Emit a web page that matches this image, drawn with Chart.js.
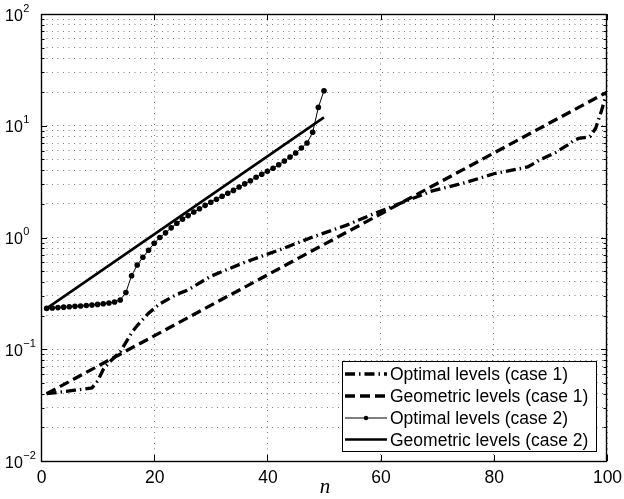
<!DOCTYPE html>
<html>
<head>
<meta charset="utf-8">
<script src="https://cdn.jsdelivr.net/npm/chart.js@4"></script>
<style>
  html, body { margin: 0; padding: 0; background: #fff; }
  #chart { display: block; }
</style>
</head>
<body>
<canvas id="chart" width="624" height="499"></canvas>
<script>
// values
const n_opt_case1 = [1, 3, 6, 9, 10, 11, 12, 14, 16, 17, 19, 21, 24, 26, 30, 36, 42, 48, 54, 58,
                     63, 69, 75, 80, 86, 88, 91, 93, 94, 95, 97, 98, 99, 100];
const opt_case1 = [0.040, 0.041, 0.043, 0.045, 0.052, 0.066, 0.076, 0.095, 0.14, 0.163, 0.21, 0.255, 0.31, 0.34, 0.45, 0.60, 0.77, 1.01, 1.29, 1.57,
                   1.98, 2.6, 3.1, 3.72, 4.28, 4.9, 5.8, 6.7, 7.3, 7.7, 8.0, 9.5, 13.5, 20];

const n_geo_case1 = [1, 100];
const geo_case1 = [0.04, 20];

const n_opt_case2 = [1, 2, 3, 4, 5, 6, 7, 8, 9, 10, 11, 12, 13, 14, 15, 16, 17, 18, 19, 20,
                     21, 22, 23, 24, 25, 26, 27, 28, 29, 30, 31, 32, 33, 34, 35, 36, 37, 38, 39, 40,
                     41, 42, 43, 44, 45, 46, 47, 48, 49, 50];
const opt_case2 = [0.232, 0.234, 0.236, 0.238, 0.240, 0.242, 0.244, 0.246, 0.249, 0.252,
                   0.255, 0.259, 0.265, 0.276, 0.322, 0.455, 0.567, 0.665, 0.77, 0.887,
                   1.0, 1.10, 1.22, 1.34, 1.46, 1.57, 1.69, 1.81, 1.94, 2.07,
                   2.20, 2.34, 2.49, 2.64, 2.83, 3.02, 3.22, 3.46, 3.68, 3.91,
                   4.16, 4.48, 4.84, 5.25, 5.70, 6.32, 7.01, 8.74, 14.6, 20.6];

const n_geo_case2 = [1, 50];
const geo_case2 = [0.232, 11.9];

const series_names = ['Optimal levels (case 1)', 'Geometric levels (case 1)',
                      'Optimal levels (case 2)', 'Geometric levels (case 2)'];
const x_ticks = [0, 20, 40, 60, 80, 100];
const y_exponents = [-2, -1, 0, 1, 2];
const x_title = 'n';

const FONT = '"Liberation Sans", Arial, sans-serif';

function pairs(xs, ys) {
    return xs.map((x, i) => ({x: x, y: ys[i]}));
}

// grid positions 1..9 x 10^e for the log axis
let y_grid = [];
for (let e = y_exponents[0]; e < y_exponents[y_exponents.length - 1]; e++) {
    for (let m = 1; m <= 9; m++) { y_grid.push(m * Math.pow(10, e)); }
}
y_grid.push(Math.pow(10, y_exponents[y_exponents.length - 1]));

const axes_box = {
    id: 'axes_box',
    afterDraw(chart) {
        const ctx = chart.ctx;
        const a = chart.chartArea;
        const xs = chart.scales.x;
        const ys = chart.scales.y;
        ctx.save();
        ctx.strokeStyle = '#000';
        ctx.lineWidth = 1;
        ctx.setLineDash([]);
        // inward ticks
        ctx.beginPath();
        for (let v of x_ticks) {
            const px = Math.round(xs.getPixelForValue(v)) + 0.5;
            ctx.moveTo(px, a.bottom); ctx.lineTo(px, a.bottom - 6);
            ctx.moveTo(px, a.top); ctx.lineTo(px, a.top + 6);
        }
        for (let v of y_grid) {
            const py = Math.round(ys.getPixelForValue(v)) + 0.5;
            const major = Math.abs(Math.log10(v) - Math.round(Math.log10(v))) < 1e-9;
            const len = major ? 6 : 3.5;
            ctx.moveTo(a.left, py); ctx.lineTo(a.left + len, py);
            ctx.moveTo(a.right, py); ctx.lineTo(a.right - len, py);
        }
        ctx.stroke();
        ctx.lineWidth = 1.4;
        ctx.strokeRect(a.left + 0.5, a.top + 0.5, a.right - a.left - 1, a.bottom - a.top);

        // tick labels
        ctx.fillStyle = '#000';
        ctx.font = '17.5px ' + FONT;
        ctx.textAlign = 'center';
        ctx.textBaseline = 'alphabetic';
        for (let v of x_ticks) {
            ctx.fillText(String(v), xs.getPixelForValue(v) + 0.5, 482.5);
        }
        ctx.textAlign = 'left';
        for (let e of y_exponents) {
            const py = ys.getPixelForValue(Math.pow(10, e));
            ctx.font = '16px ' + FONT;
            ctx.fillText('10', 5, py + 6.5);
            const w = ctx.measureText('10').width;
            ctx.font = '11px ' + FONT;
            ctx.fillText(String(e).replace('-', '\u2212'), 5 + w + 0.5, py - 2.5);
        }
        ctx.font = 'italic 21px "Liberation Serif", "Times New Roman", serif';
        ctx.textAlign = 'center';
        ctx.fillText(x_title, 325, 493);

        // legend
        const lx0 = 342.5, ly0 = 361.5, lx1 = 596.5, ly1 = 451.5;
        ctx.fillStyle = '#fff';
        ctx.fillRect(lx0, ly0, lx1 - lx0, ly1 - ly0);
        ctx.strokeStyle = '#000';
        ctx.lineWidth = 1;
        ctx.strokeRect(lx0, ly0, lx1 - lx0, ly1 - ly0);
        const rows = [374, 396, 418, 439.5];
        chart.data.datasets.forEach((ds, i) => {
            const ry = rows[i];
            ctx.save();
            ctx.strokeStyle = '#000';
            ctx.lineWidth = ds.borderWidth;
            ctx.lineCap = 'butt';
            ctx.setLineDash(ds.borderDash || []);
            ctx.beginPath();
            ctx.moveTo(345, ry); ctx.lineTo(387, ry);
            ctx.stroke();
            if (ds.pointRadius > 0) {
                ctx.setLineDash([]);
                ctx.fillStyle = '#000';
                ctx.beginPath();
                ctx.arc(366, ry, ds.pointRadius * 0.8, 0, Math.PI * 2);
                ctx.fill();
            }
            ctx.restore();
            ctx.fillStyle = '#000';
            ctx.font = '17.5px ' + FONT;
            ctx.textAlign = 'left';
            ctx.fillText(ds.label, 390, ry + 6.3);
        });
        ctx.restore();
    }
};

new Chart(document.getElementById('chart'), {
    type: 'line',
    data: {
        datasets: [
            {
                label: series_names[0],
                data: pairs(n_opt_case1, opt_case1),
                borderColor: '#000',
                borderWidth: 3.3,
                borderDash: [10, 4, 1.5, 4],
                pointRadius: 0,
                tension: 0
            },
            {
                label: series_names[1],
                data: pairs(n_geo_case1, geo_case1),
                borderColor: '#000',
                borderWidth: 3.3,
                borderDash: [10, 5],
                pointRadius: 0,
                tension: 0
            },
            {
                label: series_names[2],
                data: pairs(n_opt_case2, opt_case2),
                borderColor: '#000',
                borderWidth: 1,
                pointRadius: 2.8,
                pointBackgroundColor: '#000',
                pointBorderColor: '#000',
                pointBorderWidth: 0,
                tension: 0
            },
            {
                label: series_names[3],
                data: pairs(n_geo_case2, geo_case2),
                borderColor: '#000',
                borderWidth: 2.6,
                pointRadius: 0,
                tension: 0
            }
        ]
    },
    options: {
        responsive: false,
        devicePixelRatio: 1,
        animation: false,
        layout: { padding: { left: 41, top: 14, right: 17, bottom: 38 } },
        plugins: {
            legend: { display: false },
            tooltip: { enabled: false }
        },
        scales: {
            x: {
                type: 'linear',
                min: 0,
                max: 100,
                ticks: { display: false, stepSize: 20 },
                grid: { color: '#7a7a7a', lineWidth: 1, drawTicks: false },
                border: { display: false, dash: [1, 4.5] },
                afterFit: (s) => { s.height = 0; }
            },
            y: {
                type: 'logarithmic',
                min: 0.01,
                max: 100,
                ticks: { display: false },
                grid: { color: '#7a7a7a', lineWidth: 1, drawTicks: false },
                border: { display: false, dash: [1, 4.5] },
                afterBuildTicks: (s) => { s.ticks = y_grid.map((v) => ({value: v})); },
                afterFit: (s) => { s.width = 0; }
            }
        }
    },
    plugins: [axes_box]
});
</script>
</body>
</html>
